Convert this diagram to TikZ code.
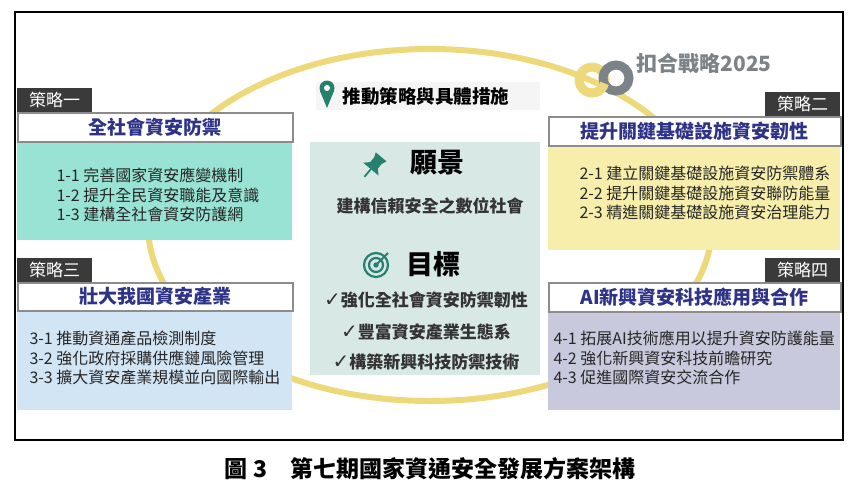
\documentclass[tikz,border=0pt]{standalone}
\usepackage{fontspec}
\setmainfont{Noto Sans CJK TC}
\newfontfamily\dejavu{DejaVu Sans}
\newcommand{\ck}{{\dejavu\bfseries\fontsize{20}{20}\selectfont ✓}}
\definecolor{ylw}{HTML}{EED97A}
\definecolor{navy}{HTML}{2E3388}
\definecolor{dark}{HTML}{3A3A3A}
\definecolor{teal1}{HTML}{98E3D3}
\definecolor{blue1}{HTML}{D2E5F4}
\definecolor{ylw1}{HTML}{F6EEAA}
\definecolor{lav1}{HTML}{C9C9DD}
\definecolor{cen}{HTML}{D8E8E5}
\definecolor{icon}{HTML}{27806E}
\definecolor{grey1}{HTML}{7B8389}
\begin{document}
\begin{tikzpicture}[x=1pt,y=-1pt,
  lab/.style={fill=dark,text=white,font=\fontsize{17}{17}\selectfont,anchor=center,inner sep=0},
  ttl/.style={draw=gray!90,line width=1.5pt,fill=white,text=navy,font=\fontsize{19}{19}\selectfont\bfseries},
  body/.style={font=\fontsize{16}{19.5}\selectfont,align=left,anchor=west,text=black!85},
  goalt/.style={font=\fontsize{17}{17}\selectfont\bfseries,text=black!80}]
\useasboundingbox (0,0) rectangle (861,498);
\draw[line width=1.6pt] (15,12) rectangle (843,440);
\draw[ylw,line width=6pt] (430,225) ellipse [x radius=282, y radius=176];
% logo
\draw[ylw,line width=9pt] (592,80) circle (13);
\draw[grey1,line width=9pt] (616,78) circle (13);
\draw[ylw,line width=9pt] (592,80) ++(15:13) arc (15:75:13);
\node[text=grey1,font=\fontsize{21}{21}\selectfont\bfseries,anchor=west] (logo) at (633,63) {扣合戰略2025};
% header
\fill[gray!8] (316,82) rectangle (540,110);
\fill[icon] (327,88) circle (7.5);
\fill[icon] (320,91) -- (327,108) -- (334,91) -- cycle;
\fill[white] (327,88) circle (3);
\node[font=\fontsize{18.5}{18.5}\selectfont\bfseries,anchor=west] (hdr) at (339,96) {推動策略與具體措施};
% center
\fill[cen] (310,142) rectangle (540,375);
\begin{scope}[shift={(376,163)},rotate=-40]
\fill[icon] (-7,-8) -- (7,-8) -- (5,-3) -- (5,3) -- (10,8) -- (-10,8) -- (-5,3) -- (-5,-3) -- cycle;
\draw[icon,line width=1.8pt] (0,8) -- (0,18);
\end{scope}
\node[font=\fontsize{27}{27}\selectfont\bfseries] (vis) at (437,163) {願景};
\node[font=\fontsize{17}{17}\selectfont\bfseries,text=black!80] (visT) at (430,206) {建構信賴安全之數位社會};
\draw[icon,line width=2.2pt] (376,265) circle (12) (376,265) circle (7);
\fill[icon] (376,265) circle (2.7);
\draw[icon,line width=1.8pt] (376,265) -- (388,253);
\node[font=\fontsize{27}{27}\selectfont\bfseries] (goal) at (433,264) {目標};
\node[goalt] (g1) at (426,300) {\ck 強化全社會資安防禦韌性};
\node[goalt] (g2) at (426,332) {\ck 豐富資安產業生態系};
\node[goalt] (g3) at (426,362) {\ck 構築新興科技防禦技術};
% strategy 1
\fill[teal1] (17,141) rectangle (292,240);
\node[lab,minimum width=75,minimum height=24] (l1) at (54.5,100) {策略一};
\node[ttl,minimum width=275,minimum height=29,anchor=north west] (t1) at (17,112) {全社會資安防禦};
\node[body] (b1) at (53,195) {1-1 完善國家資安應變機制\\1-2 提升全民資安職能及意識\\1-3 建構全社會資安防護網};
% strategy 3
\fill[blue1] (17,310) rectangle (292,410);
\node[lab,minimum width=75,minimum height=24] (l3) at (54.5,270) {策略三};
\node[ttl,minimum width=275,minimum height=28,anchor=north west] (t3) at (17,282) {壯大我國資安產業};
\node[body] (b3) at (26,358) {3-1 推動資通產品檢測制度\\3-2 強化政府採購供應鏈風險管理\\3-3 擴大資安產業規模並向國際輸出};
% strategy 2
\fill[ylw1] (548,145) rectangle (840,250);
\node[lab,minimum width=75,minimum height=24] (l2) at (802.5,104) {策略二};
\node[ttl,minimum width=292,minimum height=29,anchor=north west] (t2) at (548,116) {提升關鍵基礎設施資安韌性};
\node[body] (b2) at (576,193) {2-1 建立關鍵基礎設施資安防禦體系\\2-2 提升關鍵基礎設施資安聯防能量\\2-3 精進關鍵基礎設施資安治理能力};
\fill[lav1] (548,311) rectangle (840,410);
\node[lab,minimum width=75,minimum height=24] (l4) at (802.5,270) {策略四};
\node[ttl,minimum width=292,minimum height=29,anchor=north west] (t4) at (548,282) {AI新興資安科技應用與合作};
\node[body] (b4) at (550,358) {4-1 拓展AI技術應用以提升資安防護能量\\4-2 強化新興資安科技前瞻研究\\4-3 促進國際資安交流合作};
% caption
\node[font=\fontsize{23}{23}\selectfont\bfseries] (cap) at (430,469) {圖 3\quad 第七期國家資通安全發展方案架構};
\end{tikzpicture}
\end{document}
